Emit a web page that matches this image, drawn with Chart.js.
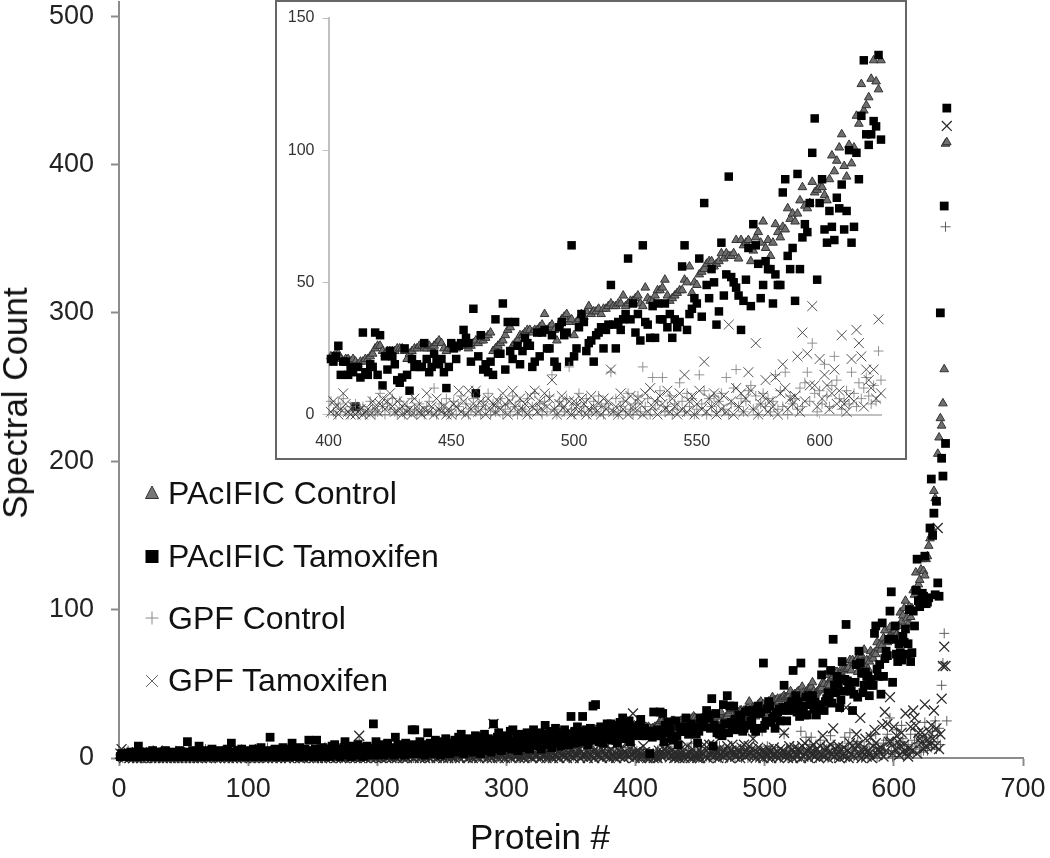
<!DOCTYPE html>
<html>
<head>
<meta charset="utf-8">
<title>Spectral Count</title>
<script src="https://cdn.jsdelivr.net/npm/chart.js@4/dist/chart.umd.min.js"></script>
<style>
html, body { margin: 0; padding: 0; background: #fff; }
body { width: 1050px; height: 858px; position: relative; overflow: hidden; font-family: "Liberation Sans", Arial, sans-serif; color: #111; }
canvas { position: absolute; display: block; }
#mainChart { left: 0; top: 0; }
#insetBox { position: absolute; left: 275px; top: 0; width: 632px; height: 460px; box-sizing: border-box; border: 2.5px solid #666; background: #fff; }
#insetChart { left: 0; top: 0; }
.axisTitle { position: absolute; font-size: 35px; white-space: nowrap; line-height: 40px; }
#xTitle { left: 470px; top: 817px; }
#yTitle { left: 15px; top: 403px; transform: translate(-50%, -50%) rotate(-90deg); }
.legendRow { position: absolute; left: 168px; font-size: 32px; line-height: 36px; white-space: nowrap; }
.legendRow svg { position: absolute; left: -25px; top: 9px; }
</style>
</head>
<body>
<canvas id="mainChart" width="1050" height="858"></canvas>
<div id="insetBox"><canvas id="insetChart" width="627" height="455"></canvas></div>
<div class="axisTitle" id="xTitle">Protein #</div>
<div class="axisTitle" id="yTitle">Spectral Count</div>
<div class="legendRow" style="top:475px"><svg width="18" height="18"><polygon points="9,2 15.5,14.5 2.5,14.5" fill="#777" stroke="#333"/></svg>PAcIFIC Control</div>
<div class="legendRow" style="top:538px"><svg width="18" height="18"><rect x="2.5" y="3" width="13" height="13" fill="#000"/></svg>PAcIFIC Tamoxifen</div>
<div class="legendRow" style="top:600px"><svg width="18" height="18"><path d="M9 2.5V15.5M2.5 9H15.5" stroke="#888" fill="none"/></svg>GPF Control</div>
<div class="legendRow" style="top:662px"><svg width="18" height="18"><path d="M3 4L15 16M15 4L3 16" stroke="#666" fill="none"/></svg>GPF Tamoxifen</div>
<script>
// values, one per protein (#1 onward)
const pacificControl = [
1,0,1,1,0,1,1,1,0,1, 1,1,0,1,1,1,1,0,1,1, 1,1,1,1,0,1,1,1,1,1, 0,1,1,1,1,1,1,1,1,0, 1,1,1,1,1,1,1,1,1,1,
1,1,1,2,1,1,1,1,2,1, 1,1,2,1,1,1,2,1,1,2, 1,2,1,1,2,1,2,1,1,2, 2,1,2,1,2,2,1,2,1,2, 2,2,1,2,2,1,2,2,2,1,
2,2,2,2,1,2,2,2,2,2, 2,2,3,2,2,2,2,3,2,2, 2,3,2,2,3,2,2,3,2,3, 2,3,3,2,3,2,3,3,2,3, 3,3,2,3,3,3,3,2,3,3,
3,3,3,4,3,3,3,4,3,3, 4,3,3,4,3,4,3,4,4,3, 4,4,3,4,4,4,3,4,4,4, 4,4,5,4,4,4,5,4,5,4, 5,4,5,5,4,5,5,4,5,5,
5,5,5,5,6,5,5,5,6,5, 5,6,5,6,5,6,5,6,6,5, 6,6,6,6,5,6,6,7,6,6, 6,7,6,7,6,7,7,6,7,7, 7,7,6,7,7,7,8,7,7,7,
7,8,7,8,7,8,8,7,8,8, 8,8,8,9,8,8,8,9,8,9, 9,8,9,9,8,9,9,9,10,9, 9,10,9,9,10,10,9,10,10,10, 10,10,11,10,10,11,11,10,11,11,
11,11,11,12,11,11,12,12,11,12, 12,12,12,13,12,12,13,12,13,13, 13,13,14,13,13,14,14,13,14,14, 14,14,15,14,15,14,15,15,15,15, 15,16,15,16,16,15,16,16,16,17,
16,17,16,17,17,17,18,17,18,17, 18,18,18,18,19,18,19,18,19,19, 19,19,20,19,20,19,20,20,20,20, 20,21,20,21,20,21,21,20,21,21, 21,21,21,22,21,22,21,21,22,21,
22,22,23,23,21,20,21,21,20,21, 20,19,20,20,21,21,22,23,25,26, 26,24,23,24,24,24,24,25,25,25, 24,21,23,24,25,25,26,26,25,25, 26,25,26,27,28,27,25,24,25,25,
26,25,26,26,27,26,25,26,27,28, 27,28,28,29,30,31,24,25,26,27, 28,30,32,33,26,27,28,30,30,31, 32,32,31,32,32,33,34,38,32,33, 34,32,28,34,36,37,38,35,36,30,
35,36,38,37,39,41,38,39,39,40, 38,40,40,41,42,41,41,42,42,45, 41,42,43,43,44,45,42,41,48,44, 43,43,45,47,47,48,51,45,43,44, 45,46,47,47,51,50,56,46,50,49,
53,54,55,57,58,58,56,57,58,61, 59,61,60,60,61,66,59,66,64,65, 66,58,62,67,69,65,73,63,66,60, 65,72,69,67,71,70,78,74,76,73, 76,81,86,79,78,80,88,84,85,86,
86,83,81,89,98,92,96,101,106,94, 90,102,95,101,113,110,125,115,117,120, 127,134,126,123,134,136,143,148,150,154, 180,175,173,205,216,229,224,239,262,414, 415
];
const pacificTamoxifen = [
1,3,2,1,2,1,3,2,4,1, 2,3,1,2,8,3,1,2,1,4, 2,1,3,2,1,5,2,1,3,1, 2,4,1,3,2,5,1,2,3,1, 4,2,1,2,3,1,5,2,3,1,
2,4,11,1,3,2,5,1,3,2, 4,8,2,1,3,5,2,1,4,3, 2,6,1,3,2,4,1,5,3,2, 1,4,2,6,3,1,10,2,4,3, 1,5,2,3,6,1,4,2,3,5,
2,1,4,6,3,2,5,1,3,7, 2,4,1,3,5,2,14,4,3,1, 6,2,5,3,1,4,7,2,3,5, 1,6,2,10,4,3,1,5,2,7, 3,4,1,6,2,3,12,5,4,1,
3,6,12,2,5,1,4,7,3,2, 6,4,1,5,8,3,9,2,5,4, 1,6,3,7,11,2,5,4,8,1, 3,6,2,5,9,4,3,7,1,5, 2,8,4,6,3,5,23,2,11,4,
7,3,9,5,2,8,4,10,6,3, 7,5,2,14,4,9,6,3,8,5, 2,10,7,4,6,3,19,9,19,5, 8,3,11,6,4,9,2,7,17,5, 10,4,8,3,12,6,9,5,2,11,
7,4,13,6,9,3,10,8,5,12, 4,7,14,9,16,6,3,11,8,5, 13,7,10,4,9,15,6,14,8,3, 11,7,16,5,10,13,8,4,12,23, 9,6,14,17,10,5,12,8,15,7,
13,9,18,6,19,11,8,14,5,16, 10,12,7,15,9,17,13,6,11,14, 19,8,15,10,13,17,6,12,16,22, 9,14,11,18,7,15,13,20,10,16, 12,8,17,14,19,11,15,9,13,28,
16,12,18,10,21,14,17,11,28,15, 13,19,9,16,20,12,35,18,36,14, 17,11,21,15,10,19,13,23,16,20, 23,12,18,15,22,10,17,24,14,27, 19,13,21,16,25,11,18,20,15,19,
21,20,22,26,15,20,20,15,18,16, 3,18,14,31,16,15,19,18,31,15, 30,11,22,17,24,22,19,13,12,14, 25,15,9,21,18,19,18,18,27,21, 16,18,23,20,19,21,16,10,18,27,
25,21,26,27,32,29,27,20,40,8, 22,30,17,19,16,20,15,36,23,23, 42,17,35,24,21,35,26,19,24,29, 27,26,18,20,31,22,31,32,25,25, 30,20,18,33,35,30,31,20,64,22,
25,33,38,35,24,27,28,20,30,31, 33,25,32,34,49,34,25,35,32,36, 38,59,36,42,31,38,28,64,35,34, 29,41,29,42,36,36,42,33,38,29, 36,33,35,56,64,32,38,40,44,42,
59,37,80,49,44,55,50,34,39,65, 45,53,90,52,50,48,45,32,43,51, 63,41,72,64,57,44,49,58,55,55, 42,53,49,49,84,89,60,55,63,43, 91,55,67,72,69,80,99,112,51,80,
89,70,65,77,71,66,82,78,87,70, 77,100,65,71,99,89,113,134,106,102, 106,111,109,136,104,105,108,155,188,150, 165,110,173,118,109,300,202,190,372,212, 438
];
const gpfControl = [
2,1,0,3,0,1,5,0,2,1, 0,3,1,0,1,2,0,1,4,0, 1,0,2,1,0,3,1,0,2,1, 4,0,1,0,2,1,0,3,0,1, 2,0,1,5,0,1,2,0,1,3,
0,1,2,0,4,1,0,1,3,0, 2,1,0,3,1,0,6,1,2,0, 1,4,0,2,1,0,3,1,0,5, 1,0,2,3,0,1,4,0,1,2, 0,3,1,0,6,2,0,1,4,0,
2,1,0,3,1,5,0,2,1,0, 4,1,0,2,7,0,1,3,0,2, 1,0,5,1,2,0,3,1,0,4, 2,0,1,6,0,3,1,0,2,5, 1,0,3,1,0,4,2,0,7,1,
2,0,5,1,3,0,1,4,0,2, 6,1,0,3,2,0,5,1,0,3, 1,8,0,2,1,4,0,3,1,0, 5,2,0,1,3,12,0,2,6,1, 3,0,1,4,0,7,2,1,0,5,
1,3,0,2,6,1,0,4,2,1, 8,0,3,1,5,0,2,1,6,0, 3,1,4,0,2,7,1,0,5,2, 1,0,6,3,1,0,4,2,9,0, 3,1,5,0,2,1,7,0,4,1,
2,6,0,3,1,8,0,2,5,1, 0,4,2,7,1,0,3,5,1,2, 9,0,3,1,6,0,2,4,1,0, 7,2,1,5,0,3,8,1,4,0, 2,6,1,3,0,5,2,9,1,0,
4,2,7,0,3,1,6,2,0,5, 1,8,3,0,4,2,1,6,0,3, 10,1,4,0,2,7,3,1,5,0, 6,2,0,4,1,8,3,0,5,2, 1,7,0,3,9,2,1,4,0,6,
2,1,5,3,0,8,2,4,1,0, 7,3,1,5,2,0,6,11,1,4, 0,3,8,2,1,5,0,4,7,1, 3,0,6,2,9,1,4,0,5,2, 1,7,3,0,10,2,4,1,6,3,
5,1,0,4,2,6,1,0,3,1, 4,0,2,3,0,1,5,2,0,1, 8,3,0,4,2,6,1,0,5,2, 0,3,1,6,2,0,4,1,0,3, 5,1,10,0,2,4,1,6,0,2,
5,0,3,7,1,4,0,2,6,1, 3,0,5,2,8,0,4,1,3,6, 0,2,4,1,7,3,0,5,2,1, 6,0,3,8,2,4,0,5,1,7, 15,2,0,5,3,1,6,18,2,0,
4,8,1,3,6,0,2,5,1,7, 3,0,4,2,16,1,6,0,3,5, 1,8,2,0,4,7,1,18,3,6, 0,14,2,5,9,14,1,3,7,0, 4,2,12,5,1,8,3,6,0,2,
15,4,9,0,6,3,7,1,5,8, 2,14,0,4,10,17,3,6,1,5, 9,11,2,7,0,4,8,3,6,1, 5,15,2,9,3,16,0,7,4,6, 2,10,3,12,16,5,27,8,1,9,
4,19,7,3,11,22,13,6,2,5, 9,4,16,8,3,12,6,10,14,7, 4,11,5,24,13,5,9,14,7,18, 11,25,6,15,20,9,49,64,84,358, 25
];
const gpfTamoxifen = [
3,6,1,0,2,1,4,0,1,2, 0,1,3,0,2,1,0,4,1,0, 2,0,1,3,0,1,2,0,1,5, 0,1,2,0,3,1,0,2,1,0, 4,1,0,2,1,0,3,1,0,2,
1,0,2,4,0,1,3,0,1,2, 0,3,1,0,2,5,1,0,2,1, 0,2,1,3,0,1,4,0,2,1, 3,0,1,2,0,4,1,0,3,1, 0,2,1,5,0,1,3,0,2,1,
4,0,1,2,0,3,1,0,6,1, 2,0,1,4,0,2,1,3,0,1, 5,0,2,1,0,3,1,4,0,2, 1,0,3,1,6,0,2,1,4,0, 2,1,0,3,1,5,0,2,1,3,
0,4,1,0,2,7,0,1,3,0, 2,5,1,0,3,1,4,0,2,1, 6,0,1,3,0,2,5,1,0,4, 1,2,0,3,1,15,0,2,4,1, 0,6,1,3,0,2,1,5,0,3,
1,4,0,2,7,1,0,3,1,5, 0,2,4,1,0,6,2,1,3,0, 5,1,0,2,4,1,8,0,3,1, 2,6,0,1,4,2,0,5,1,3, 0,7,1,2,4,0,3,1,6,2,
0,5,1,3,0,2,8,1,4,0, 2,6,1,0,3,5,1,2,7,0, 4,1,3,0,6,2,1,5,0,3, 8,1,2,4,0,7,1,3,0,23, 2,5,1,0,6,3,1,4,0,7,
2,1,5,0,3,8,1,4,2,0, 6,1,3,0,5,2,7,1,4,0, 3,8,1,2,5,0,4,1,6,2, 0,7,3,1,5,0,2,9,1,4, 0,6,2,3,1,8,0,4,2,5,
1,0,7,3,2,6,0,4,1,9, 2,5,0,3,8,1,4,0,6,2, 3,1,7,0,5,2,9,1,4,0, 6,3,1,8,0,2,5,1,7,3, 0,4,2,10,1,6,3,30,0,4,
1,5,3,0,2,8,4,1,0,3, 0,1,2,0,1,2,0,5,3,1, 4,6,2,5,8,3,1,5,2,0, 4,1,2,0,6,3,1,0,2,8, 1,3,0,6,2,1,3,0,2,0,
4,3,9,1,5,0,9,2,4,9, 1,5,3,0,6,2,4,1,5,2, 8,4,0,5,9,3,1,6,2,4, 0,7,3,9,1,5,2,8,3,6, 13,2,0,4,7,3,1,5,0,5,
3,1,6,4,0,2,7,3,1,4, 0,6,2,5,17,1,3,0,8,2, 5,0,7,3,1,6,4,0,8,1, 10,3,5,0,7,4,2,9,1,6, 3,0,8,2,15,1,5,7,0,4,
9,2,20,1,6,3,8,0,5,2, 7,1,34,5,0,10,3,8,1,6, 16,9,2,27,0,4,7,13,1,5, 3,14,0,8,19,10,2,6,4,7, 22,1,31,5,23,11,41,11,3,21,
6,15,11,2,8,17,4,9,30,4, 1,7,21,5,32,27,22,3,17,13, 10,17,6,36,8,12,18,9,22,13, 32,8,20,155,6,16,40,62,75,62, 426
];
const mainXTicks = [0, 100, 200, 300, 400, 500, 600, 700];
const mainYTicks = [0, 100, 200, 300, 400, 500];
const insetXTicks = [400, 450, 500, 550, 600];
const insetYTicks = [0, 50, 100, 150];

function toPoints(values, first, last) {
    var pts = [];
    for (var i = first - 1; i < last && i < values.length; i++) {
        pts.push({ x: i + 1, y: values[i] });
    }
    return pts;
}

// first dataset ends up on top, so GPF goes first (squareOrder -1 lifts the squares over it)
function makeDatasets(first, last, xColor, xWidth, plusColor, squareSize, squareOrder) {
    return [
        { label: 'GPF Tamoxifen', data: toPoints(gpfTamoxifen, first, last), pointStyle: 'crossRot', pointRadius: 7, borderColor: xColor, backgroundColor: 'transparent', pointBorderWidth: xWidth, clip: false },
        { label: 'GPF Control', data: toPoints(gpfControl, first, last), pointStyle: 'cross', pointRadius: 5, borderColor: plusColor, backgroundColor: 'transparent', pointBorderWidth: 1, clip: false },
        { label: 'PAcIFIC Tamoxifen', order: squareOrder, data: toPoints(pacificTamoxifen, first, last), pointStyle: 'rect', pointRadius: squareSize, borderColor: '#000', backgroundColor: '#000', pointBorderWidth: 0, clip: false },
        { label: 'PAcIFIC Control', data: toPoints(pacificControl, first, last), pointStyle: 'triangle', pointRadius: 5, borderColor: '#333', backgroundColor: '#6f6f6f', pointBorderWidth: 1, clip: false }
    ];
}

function fixedTicks(values) {
    return function (scale) {
        scale.ticks = values.map(function (v) { return { value: v }; });
    };
}

// fixed box for an axis, no extra room for the outer tick labels
function boxSize(prop, size) {
    return function (scale) {
        scale[prop] = size;
        scale.paddingTop = 0;
        scale.paddingBottom = 0;
        scale.paddingLeft = 0;
        scale.paddingRight = 0;
    };
}

const mainChart = new Chart(document.getElementById('mainChart'), {
    type: 'scatter',
    data: { datasets: makeDatasets(1, pacificControl.length, '#2a2a2a', 1.3, 'rgba(80,80,80,0.9)', 6.2, -1) },
    options: {
        responsive: false,
        animation: false,
        layout: { autoPadding: false, padding: { top: 2, right: 27, left: 0, bottom: 0 } },
        plugins: { legend: { display: false }, tooltip: { enabled: false } },
        scales: {
            x: {
                type: 'linear', min: 0, max: 700,
                afterBuildTicks: fixedTicks(mainXTicks),
                afterFit: boxSize('height', 100),
                grid: { drawOnChartArea: false, tickLength: 8, tickColor: '#8c8c8c', tickWidth: 2 },
                border: { color: '#8c8c8c', width: 2 },
                ticks: { font: { family: 'Liberation Sans', size: 27 }, color: '#222', padding: 7, maxRotation: 0, autoSkip: false }
            },
            y: {
                type: 'linear', min: 0, max: 509.5,
                afterBuildTicks: fixedTicks(mainYTicks),
                afterFit: boxSize('width', 119),
                grid: { drawOnChartArea: false, tickLength: 8, tickColor: '#8c8c8c', tickWidth: 2 },
                border: { color: '#8c8c8c', width: 2 },
                ticks: { font: { family: 'Liberation Sans', size: 27 }, color: '#222', padding: 17, autoSkip: false }
            }
        }
    }
});

const insetChart = new Chart(document.getElementById('insetChart'), {
    type: 'scatter',
    data: { datasets: makeDatasets(401, 625, 'rgba(50,50,50,0.85)', 1, 'rgba(130,130,130,0.85)', 6, 0) },
    options: {
        responsive: false,
        animation: false,
        layout: { autoPadding: false, padding: { top: 16, right: 23, left: 0, bottom: 0 } },
        plugins: { legend: { display: false }, tooltip: { enabled: false } },
        scales: {
            x: {
                type: 'linear', min: 400, max: 625,
                afterBuildTicks: fixedTicks(insetXTicks),
                afterFit: boxSize('height', 42.5),
                grid: { drawOnChartArea: false, tickLength: 4, tickColor: '#c0c0c0', tickWidth: 1 },
                border: { color: '#c0c0c0', width: 2 },
                ticks: { font: { family: 'Liberation Sans', size: 16 }, color: '#333', padding: 13, maxRotation: 0, autoSkip: false }
            },
            y: {
                type: 'linear', min: 0, max: 150,
                afterBuildTicks: fixedTicks(insetYTicks),
                afterFit: boxSize('width', 51.5),
                grid: { drawOnChartArea: false, tickLength: 6, tickColor: '#c0c0c0', tickWidth: 1 },
                border: { color: '#c0c0c0', width: 2 },
                ticks: { font: { family: 'Liberation Sans', size: 16 }, color: '#333', padding: 8, autoSkip: false }
            }
        }
    }
});
</script>
</body>
</html>
